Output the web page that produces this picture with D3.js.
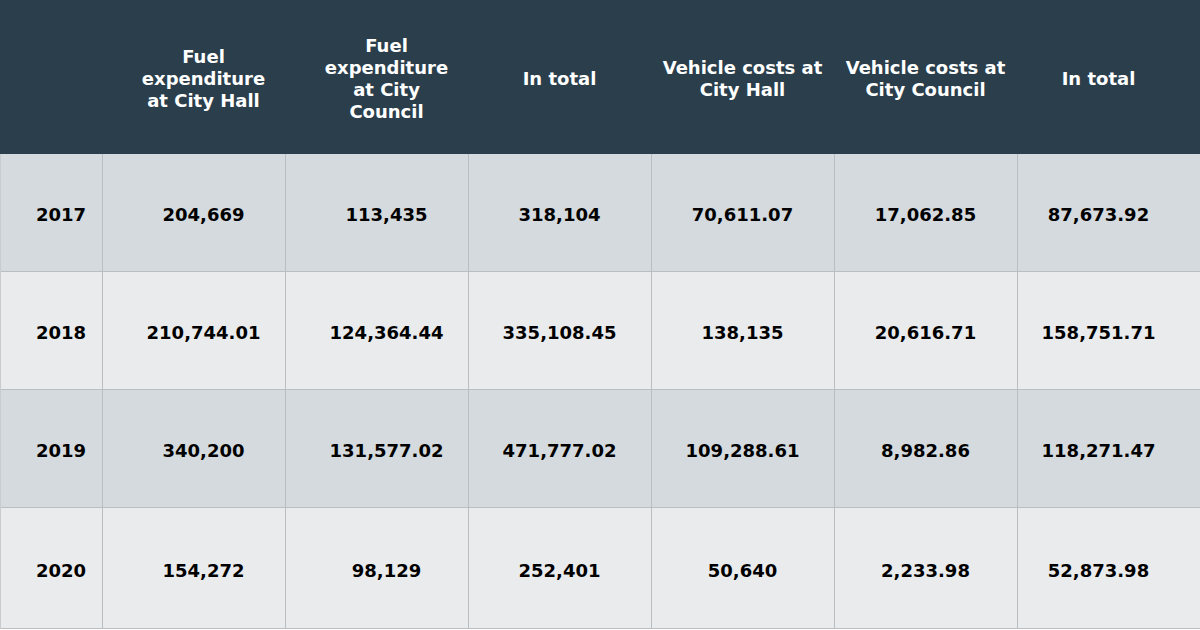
<!DOCTYPE html>
<html>
<head>
<meta charset="utf-8">
<script src="https://cdn.jsdelivr.net/npm/d3@7"></script>
<style>
  html, body { margin: 0; padding: 0; background: #ffffff; }
  svg { display: block; font-family: "DejaVu Sans", sans-serif; font-weight: bold; }
</style>
</head>
<body>
<div id="chart"></div>
<script>
const years = ['2017', '2018', '2019', '2020'];
const headers = [
  ['Fuel', 'expenditure', 'at City Hall'],
  ['Fuel', 'expenditure', 'at City', 'Council'],
  ['In total'],
  ['Vehicle costs at', 'City Hall'],
  ['Vehicle costs at', 'City Council'],
  ['In total']
];
const fuelCityHall = ['204,669', '210,744.01', '340,200', '154,272'];
const fuelCityCouncil = ['113,435', '124,364.44', '131,577.02', '98,129'];
const fuelTotal = ['318,104', '335,108.45', '471,777.02', '252,401'];
const vehicleCityHall = ['70,611.07', '138,135', '109,288.61', '50,640'];
const vehicleCityCouncil = ['17,062.85', '20,616.71', '8,982.86', '2,233.98'];
const vehicleTotal = ['87,673.92', '158,751.71', '118,271.47', '52,873.98'];

const columns = [fuelCityHall, fuelCityCouncil, fuelTotal, vehicleCityHall, vehicleCityCouncil, vehicleTotal];

const width = 1200;
const height = 630;
const headerH = 154;
const yearColW = 102;
const textShift = [10, 10, 0, 0, 0, -10];
const lineH = 22;

const svg = d3.select('#chart')
  .append('svg')
  .attr('width', width)
  .attr('height', height);

const x = d3.scaleBand()
  .domain(d3.range(columns.length))
  .range([yearColW, width]);

const y = d3.scaleBand()
  .domain(years)
  .range([headerH, 626]);

const rowH = i => (i === years.length - 1 ? 629 - y(years[i]) : y.bandwidth());

// header
svg.append('rect')
  .attr('width', width)
  .attr('height', headerH)
  .attr('fill', '#2a3e4c');

const head = svg.selectAll('.head')
  .data(headers)
  .enter()
  .append('text')
  .attr('class', 'head')
  .attr('text-anchor', 'middle')
  .attr('fill', '#ffffff')
  .style('font-size', '18px');

head.each(function (lines, i) {
  const cx = x(i) + x.bandwidth() / 2 + textShift[i];
  const top = headerH / 2 + 2 - (lines.length - 1) * lineH / 2;
  d3.select(this).selectAll('tspan')
    .data(lines)
    .enter()
    .append('tspan')
    .attr('x', cx)
    .attr('y', (d, j) => top + j * lineH)
    .attr('dy', '0.35em')
    .text(d => d);
});

// rows
const rows = svg.selectAll('.row')
  .data(years)
  .enter()
  .append('g')
  .attr('class', 'row')
  .attr('transform', d => `translate(0,${y(d)})`);

rows.append('rect')
  .attr('width', width)
  .attr('height', (d, i) => rowH(i))
  .attr('fill', (d, i) => (i % 2 === 0 ? '#d4dadd' : '#eaebed'));

rows.append('line')
  .attr('x1', 0)
  .attr('x2', width)
  .attr('y1', (d, i) => rowH(i) - 0.5)
  .attr('y2', (d, i) => rowH(i) - 0.5)
  .attr('stroke', '#b9bec2')
  .attr('stroke-width', 1);

rows.append('text')
  .attr('x', yearColW - 16)
  .attr('y', (d, i) => rowH(i) / 2 + 2)
  .attr('dy', '0.35em')
  .attr('text-anchor', 'end')
  .attr('fill', '#000000')
  .style('font-size', '18px')
  .text(d => d);

rows.each(function (d, r) {
  d3.select(this).selectAll('.cell')
    .data(columns)
    .enter()
    .append('text')
    .attr('class', 'cell')
    .attr('x', (col, i) => x(i) + x.bandwidth() / 2 + textShift[i])
    .attr('y', rowH(r) / 2 + 2)
    .attr('dy', '0.35em')
    .attr('text-anchor', 'middle')
    .attr('fill', '#000000')
    .style('font-size', '18px')
    .text(col => col[r]);
});

// vertical grid lines
svg.selectAll('.vline')
  .data(d3.range(columns.length))
  .enter()
  .append('line')
  .attr('class', 'vline')
  .attr('x1', i => x(i) + 0.5)
  .attr('x2', i => x(i) + 0.5)
  .attr('y1', headerH)
  .attr('y2', 629)
  .attr('stroke', '#b9bec2')
  .attr('stroke-width', 1);

svg.append('line')
  .attr('x1', 0.5)
  .attr('x2', 0.5)
  .attr('y1', headerH)
  .attr('y2', 629)
  .attr('stroke', '#c8cccf');
</script>
</body>
</html>
